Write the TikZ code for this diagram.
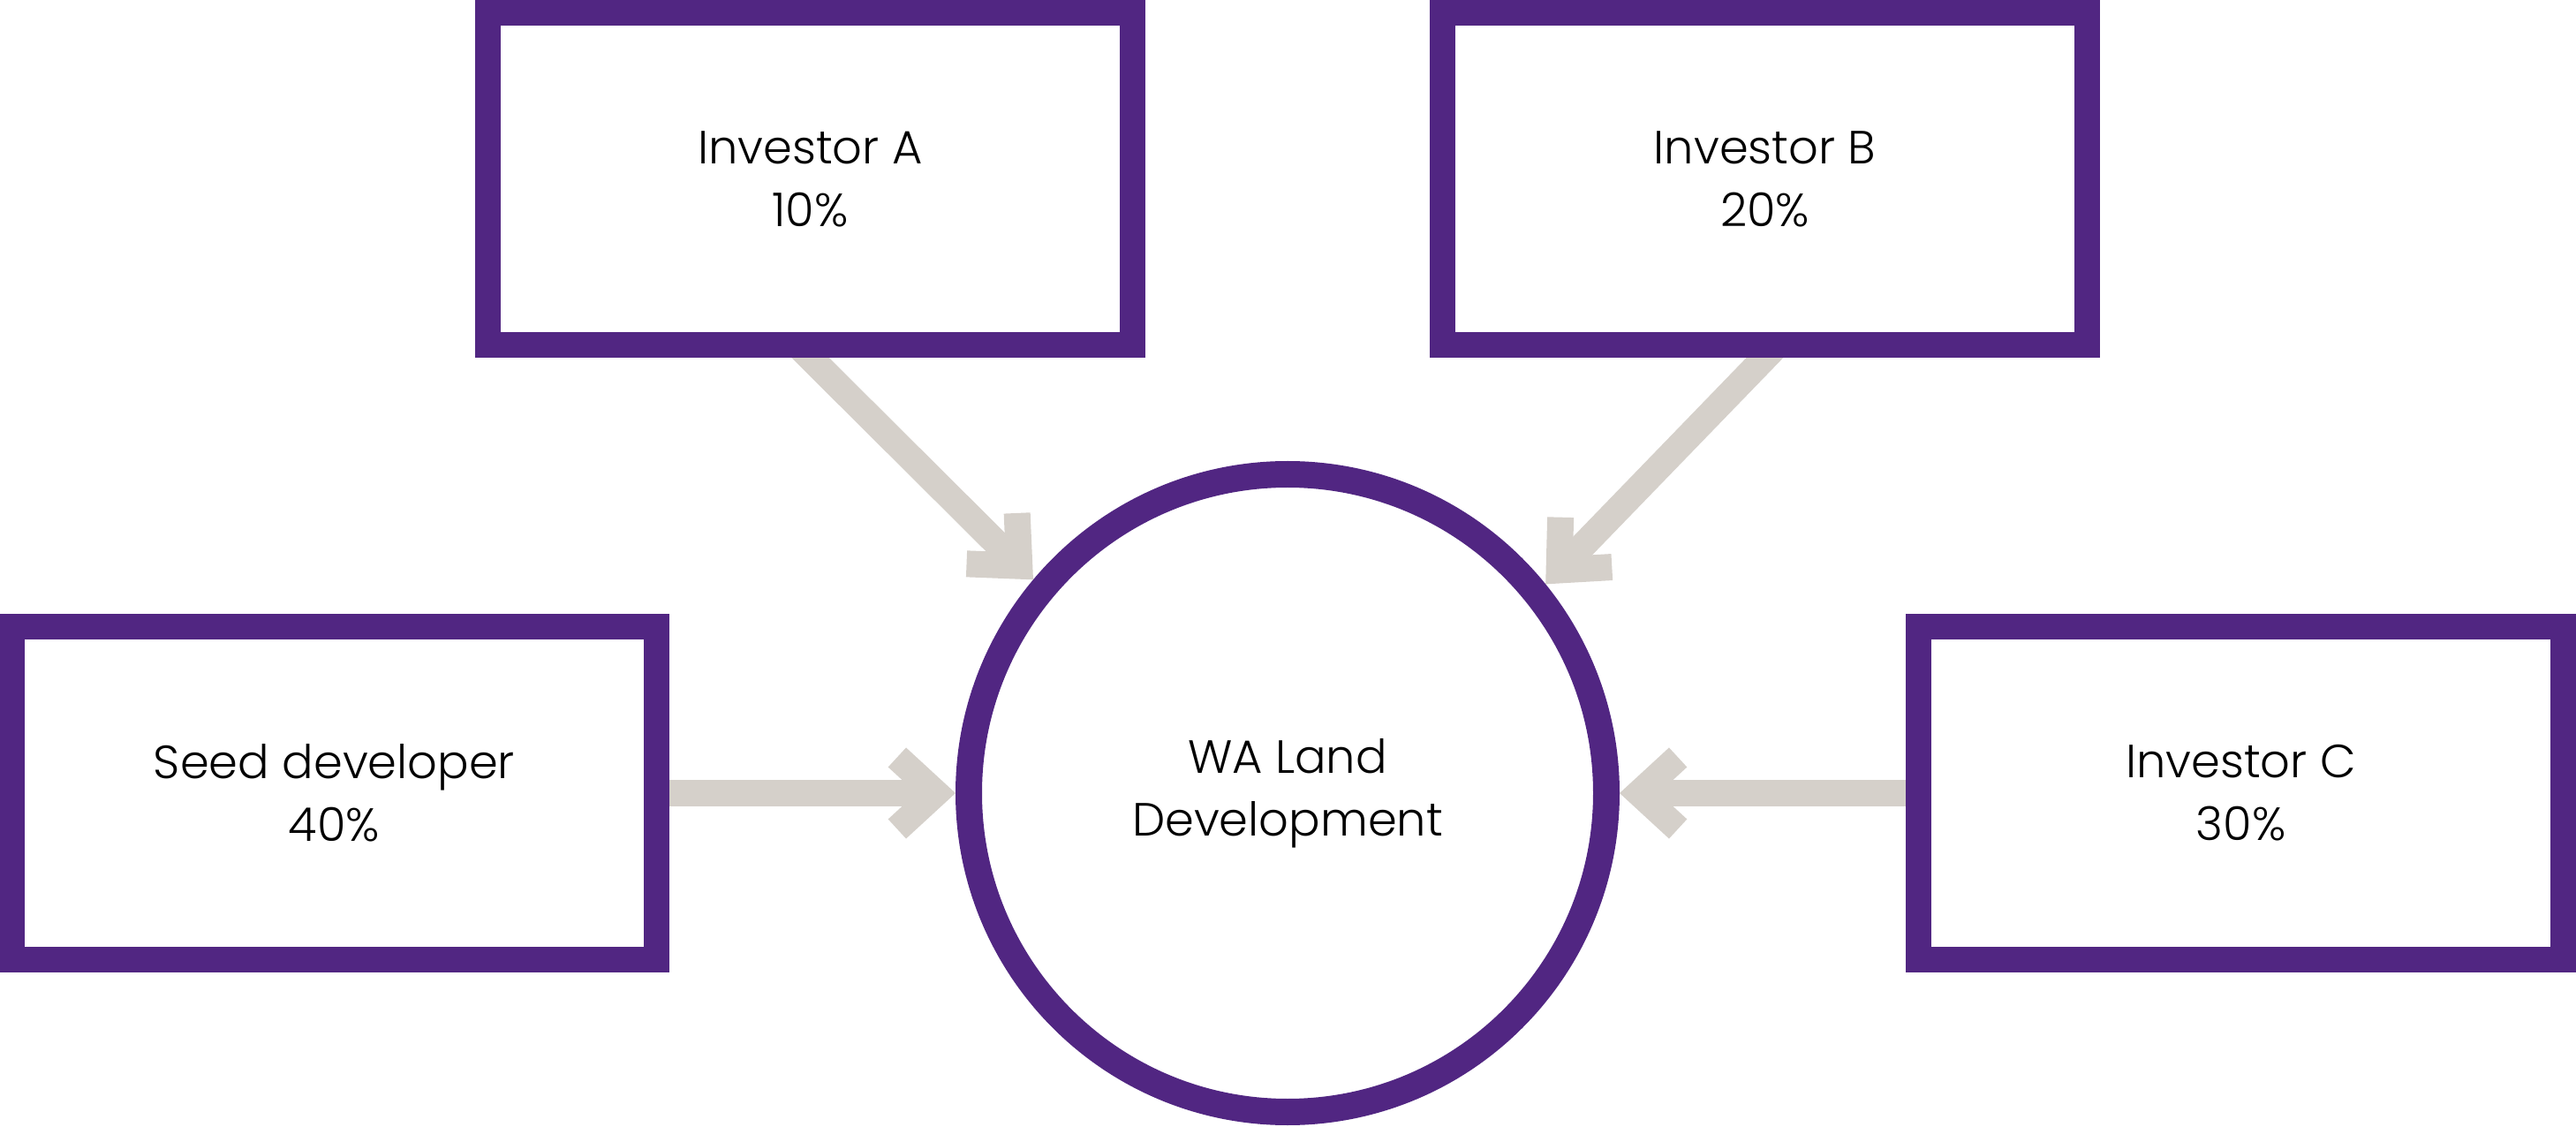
\documentclass[tikz,border=0pt]{standalone}
\usepackage{fontspec}
\setmainfont{Poppins Light}
\usetikzlibrary{arrows.meta,positioning,backgrounds}
\definecolor{wapurple}{HTML}{512682}
\definecolor{wagrey}{HTML}{D5D0CA}

\begin{document}
\begin{tikzpicture}[>={Straight Barb[sharp,length=4.4mm,width=8.1mm]},
  every edge/.style={draw=wagrey,line width=3mm,->},
  party/.style={draw=wapurple,line width=2.9mm,minimum width=7.3cm,minimum height=3.76cm,
    inner sep=0pt,align=center,font=\fontsize{15}{20.2}\selectfont},
  hub/.style={circle,draw=wapurple,line width=3mm,minimum size=7.22cm,
    inner sep=0pt,align=center,font=\fontsize{15}{20.2}\selectfont}]
  \useasboundingbox (0,0) rectangle (29.17,12.75);
  \node[hub] (wa) at (14.58,3.77) {WA Land\\Development};
  \node[party] (seed) [left=3.24cm of wa] {Seed developer\\40\%};
  \node[party] (ic) [right=3.24cm of wa] {Investor C\\30\%};
  \node[party] (ia) at (9.175,10.725) {Investor A\\10\%};
  \node[party] (ib) at (19.985,10.725) {Investor B\\20\%};
  \begin{scope}[on background layer]
    \path (seed) edge (wa)
    (ic) edge (wa)
    (ia.south) edge[shorten <=-2.2mm] (wa.140.13)
    (ib.south) edge[shorten <=-2.2mm] (wa.39.87);
  \end{scope}
\end{tikzpicture}
\end{document}
